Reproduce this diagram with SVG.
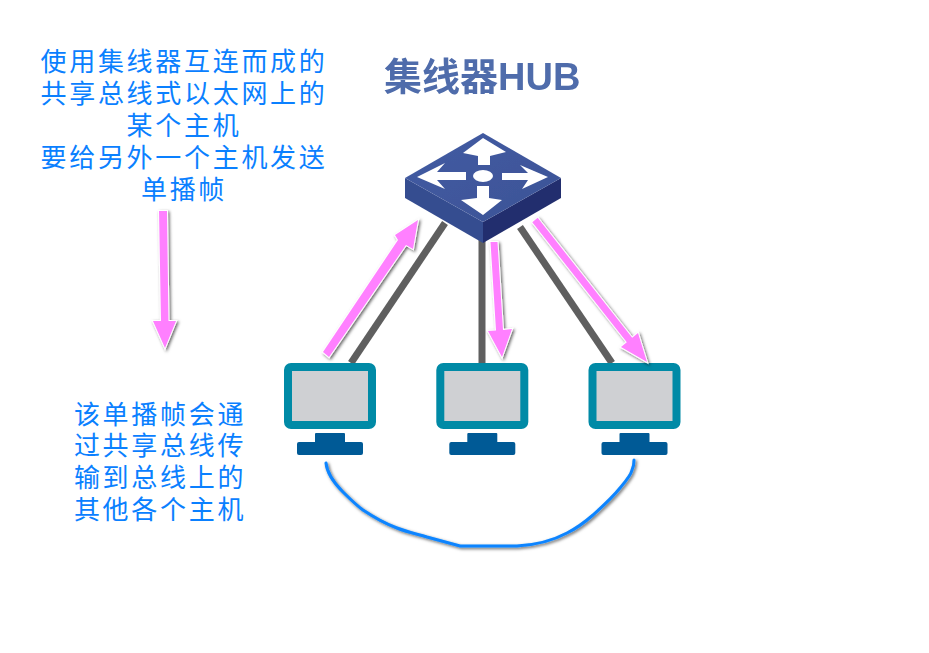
<svg xmlns="http://www.w3.org/2000/svg" width="929" height="653" viewBox="0 0 929 653">
<style>
.t{font-family:"Liberation Sans","Noto Sans CJK SC",sans-serif;font-size:26px;fill:#0a80ff;text-anchor:middle;letter-spacing:2.7px}
.link{stroke:#5f5f5f;stroke-width:7;fill:none}
.pink{fill:#ff80ff;stroke:#fff;stroke-width:2;paint-order:stroke fill;filter:url(#sh)}
.frame{fill:#cfd0d3;stroke:#008aa6;stroke-width:8}
.stand{fill:#005a96}
.ar{fill:#fff}
</style>
<defs>
<filter id="sh" x="-30%" y="-30%" width="160%" height="160%"><feDropShadow dx="1.5" dy="1.5" stdDeviation="1.8" flood-color="#000" flood-opacity="0.6"/></filter>
<filter id="soft" x="-5%" y="-5%" width="110%" height="110%"><feGaussianBlur stdDeviation="0.5"/></filter>
<linearGradient id="top" x1="0" y1="0" x2="1" y2="1"><stop offset="0" stop-color="#435ca3"/><stop offset="1" stop-color="#3c5396"/></linearGradient>
<g id="pc">
<rect class="frame" x="288" y="367" width="84" height="58" rx="3"/>
<rect class="stand" x="315" y="433" width="30" height="10" rx="1"/>
<rect class="stand" x="297" y="442" width="66" height="13" rx="2"/>
</g>
</defs>
<rect width="929" height="653" fill="#fff"/>
<g id="connectors">
<path class="link" d="M445 223L351 363"/>
<path class="link" d="M482 240V363"/>
<path class="link" d="M520 227L612 363"/>
</g>
<g id="hub" filter="url(#soft)">
<path d="M405 178L483 222V243L405 198Z" fill="#364d90"/>
<path d="M561 178L483 222V243L561 198Z" fill="#232f6e"/>
<path d="M483 133L561 178L483 222L405 178Z" fill="url(#top)"/>
<path class="ar" d="M483 138L506 152L490 156V165H478V156L463 153Z"/>
<path class="ar" d="M483 215L461 200L477 198V186H489V198L502 200Z"/>
<path class="ar" d="M417 177L445 163L437 172H466V180H437L445 189Z"/>
<path class="ar" d="M548 177L520 165L528 173H502V180H528L522 189Z"/>
<ellipse class="ar" cx="483" cy="176" rx="10" ry="6"/>
</g>
<g id="pc1"><use href="#pc"/></g>
<g id="pc2"><use href="#pc" x="152.3"/></g>
<g id="pc3"><use href="#pc" x="304.5"/></g>
<g id="arrows">
<path class="pink" d="M323 352L398 240L395 235L418 220L413 249L406 245L329 357Z"/>
<path class="pink" d="M490.500 242H497.500L503 330L512 329L502 357L488 331L496 330.500Z"/>
<path class="pink" d="M532.300 222.200L537.700 217.800L632.200 337.800L638 333L647 362L621 347L626.800 342.200Z"/>
<path class="pink" d="M159 211H167L168.500 321H176L165 348L153 321H161Z"/>
</g>
<g id="bus">
<path d="M326 463C327 473 335 484 343 492C350 499 356 505 363 510C375 518 386 524 397 528C407 532 417 534 427 537C438 540 449 543 460 546L517 546C535 545 552 541 567 533C577 528 585 522 593 515C603 506 612 498 620 488C626 481 631 475 632 470C634 466 634 463 634 460" fill="none" stroke="#0a84ff" stroke-width="3" stroke-linecap="round" filter="url(#sh)"/>
</g>
<g id="title"><text x="384" y="90" filter="url(#soft)" style="font-family:'Liberation Sans','Noto Sans CJK SC',sans-serif;font-size:38px;font-weight:700;fill:#4f6cab">集线器HUB</text></g>
<g id="label-top">
<text class="t" x="184" y="71">使用集线器互连而成的</text>
<text class="t" x="184" y="103">共享总线式以太网上的</text>
<text class="t" x="184" y="135">某个主机</text>
<text class="t" x="184" y="167">要给另外一个主机发送</text>
<text class="t" x="184" y="199">单播帧</text>
</g>
<g id="label-bottom">
<text class="t" x="160" y="424">该单播帧会通</text>
<text class="t" x="160" y="455">过共享总线传</text>
<text class="t" x="160" y="487">输到总线上的</text>
<text class="t" x="160" y="519">其他各个主机</text>
</g>
</svg>
